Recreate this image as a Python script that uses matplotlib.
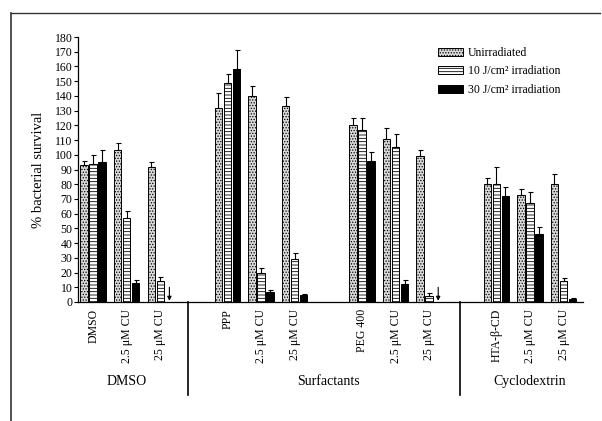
import matplotlib
matplotlib.use("Agg")
import matplotlib.pyplot as plt
import numpy as np
from matplotlib.lines import Line2D
from matplotlib.patches import Patch

plt.rcParams["font.family"] = ["Liberation Serif", "DejaVu Serif"]
plt.rcParams["hatch.linewidth"] = 0.6

categories = ["DMSO", "Surfactants", "Cyclodextrin"]
subgroups = [
    ["DMSO", "2.5 μM CU", "25 μM CU"],
    ["PPP", "2.5 μM CU", "25 μM CU", "PEG 400", "2.5 μM CU", "25 μM CU"],
    ["HTA-β-CD", "2.5 μM CU", "25 μM CU"],
]

series_names = ["Unirradiated", "10 J/cm² irradiation", "30 J/cm² irradiation"]

unirradiated = [93, 103, 92, 132, 140, 133, 120, 111, 99, 80, 73, 80]
unirradiated_err = [3, 5, 3, 10, 7, 6, 5, 7, 4, 4, 4, 7]
irr10 = [94, 57, 14, 149, 20, 29, 117, 105, 4, 80, 67, 14]
irr10_err = [6, 5, 3, 6, 3, 4, 8, 9, 2, 12, 8, 2]
irr30 = [95, 13, 0, 158, 7, 5, 96, 12, 0, 72, 46, 2]
irr30_err = [8, 2, 0, 13, 1, 0.5, 6, 3, 0, 6, 5, 1]
# no survivors -> drawn as a down arrow
arrow_idx = [2, 8]

# x layout: subgroups 1 apart, a blank slot between the solvent blocks
blocks = [3, 3, 3, 3]
pos = []
x0 = 0
for n in blocks:
    pos += list(range(x0, x0 + n))
    x0 += n + 1
pos = np.array(pos, dtype=float)
labels = [s for g in subgroups for s in g]
separators = [2.83, 10.92]
cat_centers = [1, 7, 13]

fig = plt.figure(figsize=(6.02, 4.21), dpi=100)
ax = fig.add_axes([78 / 602, 1 - 302 / 421, (583 - 78) / 602, 265 / 421])

w = 0.22
off = 0.27
styles = [
    dict(facecolor="#d9d9d9", hatch="......", edgecolor="black"),
    dict(facecolor="white", hatch="-----", edgecolor="black"),
    dict(facecolor="black", edgecolor="black"),
]
data = [(unirradiated, unirradiated_err), (irr10, irr10_err), (irr30, irr30_err)]

for k, ((vals, errs), st) in enumerate(zip(data, styles)):
    xs = pos + (k - 1) * off
    vals = np.array(vals, dtype=float)
    errs = np.array(errs, dtype=float)
    keep = [i for i in range(len(vals)) if not (k == 2 and i in arrow_idx)]
    ax.bar(xs[keep], vals[keep], width=w, linewidth=0.7, **st)
    ax.errorbar(xs[keep], vals[keep], yerr=[np.zeros(len(keep)), errs[keep]],
                fmt="none", ecolor="black", elinewidth=0.8, capsize=1.8, capthick=0.8)

for i in arrow_idx:
    x = pos[i] + off
    ax.annotate("", xy=(x, 0.8), xytext=(x, 10),
                arrowprops=dict(arrowstyle="-|>", color="black", lw=0.8,
                                mutation_scale=6, shrinkA=0, shrinkB=0))

ax.set_xlim(-0.45, 14.58)
ax.set_ylim(0, 180)
ax.set_yticks(np.arange(0, 181, 10))
ax.tick_params(axis="y", length=3, width=0.8, pad=1, labelsize=8.5)
ax.set_xticks(pos)
ax.set_xticklabels(labels, rotation=90, fontsize=8.5, va="top")
ax.tick_params(axis="x", length=0, pad=5)
for s in ["top", "right"]:
    ax.spines[s].set_visible(False)
ax.spines["left"].set_linewidth(0.9)
ax.spines["bottom"].set_linewidth(0.9)
ax.set_ylabel("% bacterial survival", fontsize=10.5, labelpad=7)

tr = ax.get_xaxis_transform()
for s in separators:
    ax.add_line(Line2D([s, s], [0, -0.351], transform=tr, color="black",
                       lw=1.2, clip_on=False))
for c, name in zip(cat_centers, categories):
    ax.text(c, -0.30, name, transform=tr, ha="center", va="center", fontsize=10)

handles = [Patch(**st, linewidth=0.7) for st in styles]
fig.legend(handles, series_names, loc="upper left",
           bbox_to_anchor=(438 / 602, 1 - 47 / 421), frameon=False,
           fontsize=8.5, handlelength=2.1, handleheight=0.7,
           handletextpad=0.4, labelspacing=0.55, borderpad=0, borderaxespad=0)

# scanned page frame
fig.add_artist(Line2D([11 / 602, 11 / 602], [0, 1 - 13 / 421], color="#333333", lw=1.2))
fig.add_artist(Line2D([11 / 602, 600 / 602], [1 - 13 / 421, 1 - 13 / 421],
                      color="#333333", lw=1.0))

fig.savefig("out.png", dpi=100)
